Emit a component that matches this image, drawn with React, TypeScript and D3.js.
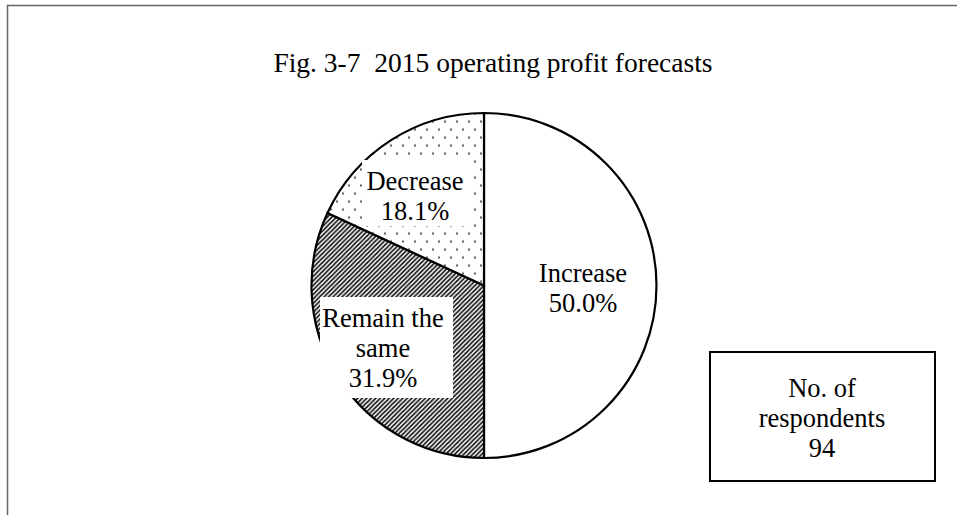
import React from "react";
import * as d3 from "d3";

const categories = ["Increase", "Remain the same", "Decrease"];
const values = [50.0, 31.9, 18.1];
const title = "Fig. 3-7  2015 operating profit forecasts";
const respondents = 94;

const W = 957;
const H = 515;
const cx = 484;
const cy = 285.5;
const R = 172.5;

const font = "Liberation Serif, Tinos, DejaVu Serif, serif";
const labelStyle: React.CSSProperties = { fontFamily: font, fontSize: "26.5px", whiteSpace: "pre" };
const titleStyle: React.CSSProperties = { fontFamily: font, fontSize: "27.5px", whiteSpace: "pre" };

export default function App() {
  const pie = d3
    .pie<number>()
    .sort(null)
    .startAngle(0)
    .endAngle(2 * Math.PI)
    .value((d) => d);
  const arcs = pie(values);
  const arcGen = d3.arc<d3.PieArcDatum<number>>().innerRadius(0).outerRadius(R);
  const fills = ["#ffffff", "url(#hatch)", "url(#dots)"];

  const labelPos: { x: number; y: number; box?: [number, number, number, number] }[] = [
    { x: 583, y: 282 },
    { x: 383, y: 327, box: [320, 297, 133, 101] },
    { x: 415, y: 190, box: [362, 160, 109, 66] },
  ];
  const labelLines = arcs.map((a, i) => {
    const name = categories[i];
    const pct = a.data.toFixed(1) + "%";
    if (name === "Remain the same") return ["Remain the", "same", pct];
    return [name, pct];
  });

  return (
    <svg
      width={W}
      height={H}
      style={{ position: "absolute", left: 0, top: 0, display: "block" }}
    >
      <defs>
        <pattern id="hatch" patternUnits="userSpaceOnUse" width={4.5} height={4.5}>
          <rect width={4.5} height={4.5} fill="#fff" />
          <path
            d="M-1.125,1.125 L1.125,-1.125 M0,4.5 L4.5,0 M3.375,5.625 L5.625,3.375"
            stroke="#111"
            strokeWidth={1.7}
          />
        </pattern>
        <pattern id="dots" patternUnits="userSpaceOnUse" width={12} height={16}>
          <rect width={12} height={16} fill="#fff" />
          <circle cx={3} cy={4} r={1.2} fill="#666" />
          <circle cx={9} cy={12} r={1.2} fill="#666" />
        </pattern>
      </defs>
      <rect x={0} y={0} width={W} height={H} fill="#fff" />
      <path d={`M7.5,515 L7.5,5.5 L957,5.5`} fill="none" stroke="#666" strokeWidth={1.5} />
      <text x={493} y={72} textAnchor="middle" style={titleStyle} fill="#000">
        {title}
      </text>
      <g transform={`translate(${cx},${cy})`}>
        {arcs.map((a, i) => (
          <path key={i} d={arcGen(a) || ""} fill={fills[i]} stroke="#000" strokeWidth={2.2} />
        ))}
      </g>
      {labelPos.map((p, i) => (
        <g key={i}>
          {p.box && (
            <rect x={p.box[0]} y={p.box[1]} width={p.box[2]} height={p.box[3]} fill="#fff" />
          )}
          <text x={p.x} y={p.y} textAnchor="middle" style={labelStyle} fill="#000">
            {labelLines[i].map((l, j) => (
              <tspan key={j} x={p.x} dy={j === 0 ? 0 : 30}>
                {l}
              </tspan>
            ))}
          </text>
        </g>
      ))}
      <rect x={710} y={352} width={225} height={129} fill="#fff" stroke="#000" strokeWidth={2} />
      <text x={822} y={397} textAnchor="middle" style={labelStyle} fill="#000">
        {["No. of", "respondents", String(respondents)].map((l, j) => (
          <tspan key={j} x={822} dy={j === 0 ? 0 : 30}>
            {l}
          </tspan>
        ))}
      </text>
    </svg>
  );
}
